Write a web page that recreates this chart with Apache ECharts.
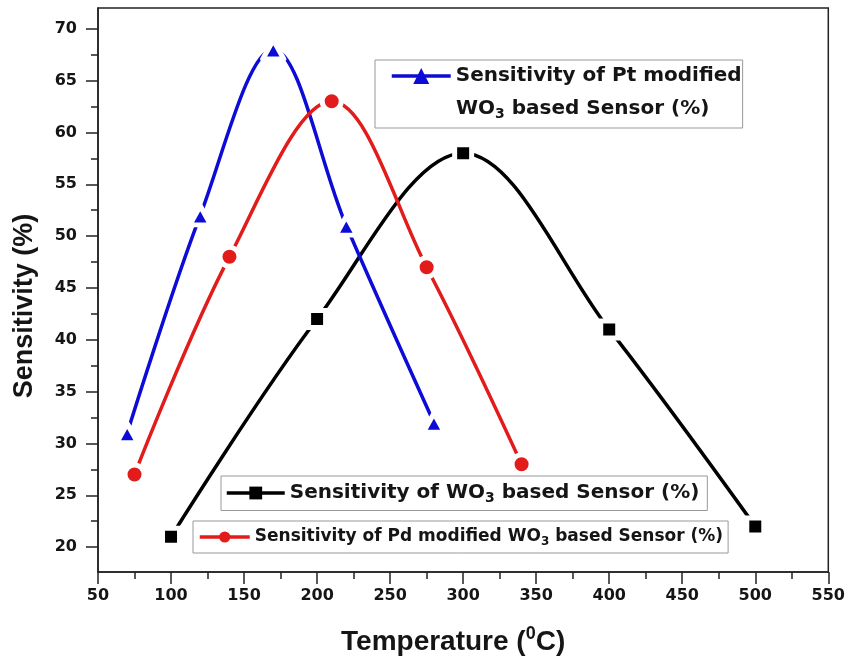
<!DOCTYPE html>
<html>
<head>
<meta charset="utf-8">
<script src="https://cdn.jsdelivr.net/npm/echarts@6/dist/echarts.min.js"></script>
<style>html,body{margin:0;padding:0;background:#fff}#c{width:848px;height:661px}</style>
</head>
<body>
<div id="c"></div>
<script>
// ---- data ----
const wo3Temp = [100, 200, 300, 400, 500];
const wo3Sens = [21, 42, 58, 41, 22];
const ptTemp = [70, 120, 170, 220, 280];
const ptSens = [31, 52, 68, 51, 32];
const pdTemp = [75, 140, 210, 275, 340];
const pdSens = [27, 48, 63, 47, 28];
const yMajorTicks = [20, 25, 30, 35, 40, 45, 50, 55, 60, 65, 70];
const yMinorTicks = [22.5, 27.5, 32.5, 37.5, 42.5, 47.5, 52.5, 57.5, 62.5, 67.5];

const pair = (xs, ys) => xs.map((x, i) => [x, ys[i]]);
const TICKF = 'DejaVu Sans';
const TITLEF = '"Liberation Sans", Arial, sans-serif';
const txt = '#151515';
const SMOOTH = 0.35;

const subStyle = (fs) => ({ fontSize: fs, fontFamily: TICKF, fontWeight: 'bold', color: txt, padding: [Math.round(fs * 0.75), 0, 0, 0] });

const chart = echarts.init(document.getElementById('c'));
chart.setOption({
  animation: false,
  backgroundColor: '#fff',
  grid: { left: 98, right: 19, top: 8, bottom: 89, show: true, borderColor: '#222', borderWidth: 1.5, backgroundColor: 'transparent' },
  xAxis: {
    type: 'value', min: 50, max: 550, interval: 50,
    name: 'Temperature ({sup|0}C)', nameLocation: 'middle', nameGap: 53,
    nameTextStyle: { fontFamily: TITLEF, fontWeight: 'bold', fontSize: 28, color: txt, padding: [0, 20, 0, 0],
      rich: { sup: { fontFamily: TITLEF, fontWeight: 'bold', fontSize: 18, color: txt, padding: [0, 0, 16, 0] } } },
    axisLine: { lineStyle: { color: '#222', width: 1.5 } },
    axisTick: { length: 12, lineStyle: { color: '#222', width: 1.5 } },
    minorTick: { show: true, splitNumber: 2, length: 7, lineStyle: { color: '#222', width: 1.5 } },
    axisLabel: { fontFamily: TICKF, fontWeight: 'bold', fontSize: 16, color: txt, margin: 16 },
    splitLine: { show: false }
  },
  yAxis: [{
    type: 'value', min: 17.6, max: 72,
    name: 'Sensitivity (%)', nameLocation: 'middle', nameGap: 60,
    nameTextStyle: { fontFamily: TITLEF, fontWeight: 'bold', fontSize: 27, color: txt, padding: [0, 32, 0, 0] },
    axisLine: { show: true, lineStyle: { color: '#222', width: 1.5 } },
    axisTick: { show: true, length: 12, customValues: yMajorTicks, lineStyle: { color: '#222', width: 1.5 } },
    axisLabel: { customValues: yMajorTicks, fontFamily: TICKF, fontWeight: 'bold', fontSize: 16, color: txt, margin: 21 },
    splitLine: { show: false }
  }, {
    type: 'value', min: 17.6, max: 72, position: 'left',
    axisLine: { show: false },
    axisTick: { show: true, length: 7, customValues: yMinorTicks, lineStyle: { color: '#222', width: 1.5 } },
    axisLabel: { show: false },
    splitLine: { show: false }
  }],
  legend: [{
    data: ['Pt'], left: 375, top: 60, orient: 'vertical',
    padding: [4, 1, 40, 15], itemWidth: 59, itemHeight: 20,
    borderColor: '#999', borderWidth: 1,
    itemStyle: { borderWidth: 0 }, lineStyle: { width: 3.5 },
    formatter: () => 'Sensitivity of Pt modified',
    textStyle: { fontFamily: TICKF, fontWeight: 'bold', fontSize: 20, color: txt, lineHeight: 24 }
  }, {
    data: ['WO3'], left: 221, top: 476,
    padding: [5, 8, 5, 4], itemWidth: 58, itemHeight: 16,
    borderColor: '#999', borderWidth: 1,
    itemStyle: { borderWidth: 0 }, lineStyle: { width: 3.5 },
    formatter: () => 'Sensitivity of WO{sub|3} based Sensor (%)',
    textStyle: { fontFamily: TICKF, fontWeight: 'bold', fontSize: 20, color: txt, lineHeight: 24, rich: { sub: subStyle(14) } }
  }, {
    data: ['Pd'], left: 193, top: 521,
    padding: [5, 5, 5, 5], itemWidth: 50, itemHeight: 14,
    borderColor: '#999', borderWidth: 1,
    itemStyle: { borderWidth: 0 }, lineStyle: { width: 3.5 },
    formatter: () => 'Sensitivity of Pd modified WO{sub|3} based Sensor (%)',
    textStyle: { fontFamily: TICKF, fontWeight: 'bold', fontSize: 17, color: txt, lineHeight: 22, rich: { sub: subStyle(12) } }
  }],
  graphic: [{
    type: 'text', x: 456, y: 109, z: 100,
    style: {
      text: 'WO{sub|3} based Sensor (%)', fill: txt,
      fontFamily: TICKF, fontWeight: 'bold', fontSize: 20, verticalAlign: 'middle',
      rich: { sub: { fontSize: 14, fontFamily: TICKF, fontWeight: 'bold', fill: txt, padding: [11, 0, 0, 0] } }
    }
  }],
  series: [{
    name: 'WO3', type: 'line', data: pair(wo3Temp, wo3Sens), smooth: SMOOTH,
    symbol: 'rect', symbolSize: 17,
    lineStyle: { color: '#000', width: 3.5 },
    itemStyle: { color: '#000', borderColor: '#fff', borderWidth: 5 }, z: 3
  }, {
    name: 'Pt', type: 'line', data: pair(ptTemp, ptSens), smooth: SMOOTH,
    symbol: 'triangle', symbolSize: [21, 19],
    lineStyle: { color: '#0c0cd6', width: 3.5 },
    itemStyle: { color: '#0c0cd6', borderColor: '#fff', borderWidth: 5, borderJoin: 'round' }, z: 3
  }, {
    name: 'Pd', type: 'line', data: pair(pdTemp, pdSens), smooth: SMOOTH,
    symbol: 'circle', symbolSize: 19,
    lineStyle: { color: '#e21b1b', width: 3.5 },
    itemStyle: { color: '#e21b1b', borderColor: '#fff', borderWidth: 5 }, z: 3
  }]
});
</script>
</body>
</html>
